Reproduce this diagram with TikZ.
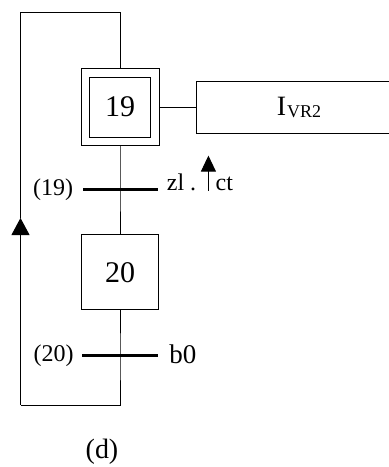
\documentclass[tikz,border=0pt]{standalone}
\usepackage{fontspec}
\setmainfont{Liberation Serif}
\usetikzlibrary{arrows.meta,positioning,fit,calc}
\tikzset{
  stepbox/.style={draw, line width=1pt, inner sep=0pt, font=\fontsize{30}{32}\selectfont},
  initframe/.style={draw, line width=1pt, inner sep=8pt},
  actbox/.style={draw, line width=1pt, minimum width=206pt, minimum height=52pt, inner sep=0pt},
  trbar/.style={fill, inner sep=0pt, minimum width=75pt, minimum height=2.8pt},
  lbl/.style={inner sep=1pt, font=\fontsize{24}{26}\selectfont},
  link/.style={line width=1pt},
  backarr/.style={line width=1pt, -{Triangle[length=17pt,width=18pt]}},
  risearr/.style={line width=1pt, -{Triangle[length=16pt,width=15pt]}}
}

\begin{document}
\begin{tikzpicture}[x=1pt, y=1pt]
    \clip (0,0) rectangle (389,-467);
    % steps
    \node[stepbox, minimum width=61pt, minimum height=60pt] (s19) at (120,-107) {19};
    \node[initframe, fit=(s19)] (s19o) {};
    \node[actbox, right=36pt of s19o] (a19) {{\fontsize{28}{30}\selectfont I}\kern1pt{\fontsize{18}{20}\selectfont\raisebox{-2pt}{VR2}}};
    \node[trbar, below=42pt of s19o] (t19) {};
    \node[stepbox, minimum width=77pt, minimum height=75pt, below=43pt of t19] (s20) {20};
    \node[trbar, minimum width=76pt, below=44pt of s20] (t20) {};
    % receptivities
    \node[lbl, left=8pt of t19] (c19) {(19)};
    \node[lbl, anchor=base west] (zl) at ($(t19.east)+(8pt,-1pt)$) {zl .};
    \node[lbl, anchor=base west] (ct) at ($(zl.base east)+(17pt,0)$) {ct};
    \coordinate (up0) at ($(zl.base east)+(11pt,0)$);
    \coordinate[above=35pt of up0] (up1);
    \node[lbl, left=7pt of t20] (c20) {(20)};
    \node[lbl, font=\fontsize{27}{29}\selectfont, right=10pt of t20, yshift=2pt] (b0) {b0};
    % loop back
    \coordinate (loopbl) at (20.5,-405);
    \coordinate (loopbr) at (t20 |- loopbl);
    \coordinate (looptip) at (20.5,-218);
    \coordinate (looptl) at (20.5,-12);
    \coordinate (looptr) at (s19o.north |- looptl);
    \node[lbl, font=\fontsize{28}{30}\selectfont] (cap) at (102,-452) {(d)};
    % links
    \draw[link] (s19o) -- (a19);
    \draw[link] (s19o.south) -- (t19.center) -- (s20.north);
    \draw[link] (s20.south) -- (t20.center) -- (loopbr) -- (loopbl);
    \draw[backarr] (loopbl) -- (looptip);
    \draw[link] (looptip) -- (looptl) -- (looptr) -- (s19o.north);
    \draw[risearr] (up0) -- (up1);
\end{tikzpicture}
\end{document}
